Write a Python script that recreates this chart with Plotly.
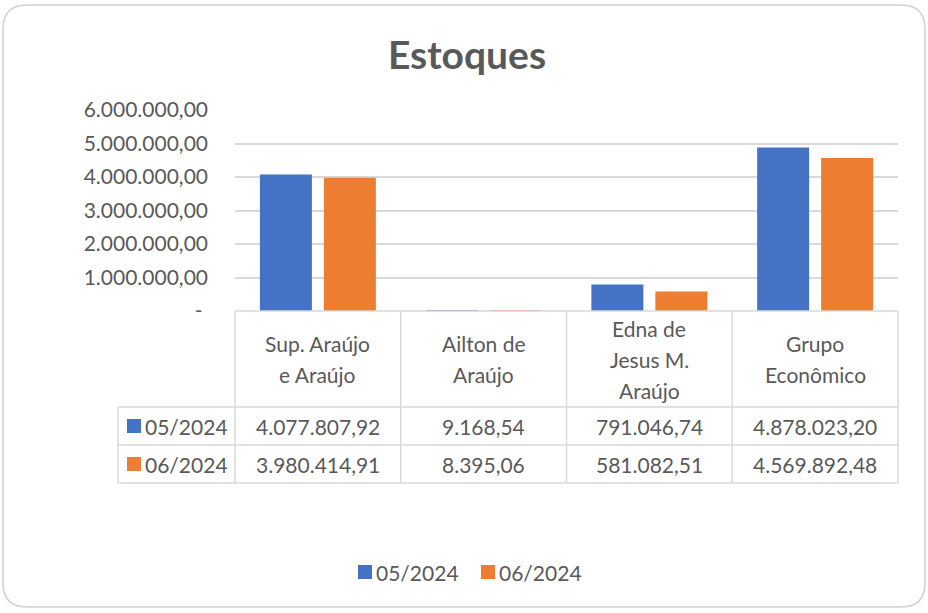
import plotly.graph_objects as go

# ---------------- data ----------------
categories = ["Sup. Araújo e Araújo", "Ailton de Araújo", "Edna de Jesus M. Araújo", "Grupo Econômico"]
category_lines = [["Sup. Araújo", "e Araújo"], ["Ailton de", "Araújo"],
                  ["Edna de", "Jesus M.", "Araújo"], ["Grupo", "Econômico"]]
series_names = ["05/2024", "06/2024"]
values_05 = [4077807.92, 9168.54, 791046.74, 4878023.20]
values_06 = [3980414.91, 8395.06, 581082.51, 4569892.48]
y_tick_values = [0, 1000000, 2000000, 3000000, 4000000, 5000000, 6000000]
title_text = "Estoques"

# ---------------- style / layout ----------------
W, H = 928, 613
ML, MR, MT, MB = 235, 30, 110, 302
PW, PH = W - ML - MR, H - MT - MB
FONT = "Lato"
FS = 21
TXT = "#595959"
LINE = "#d9d9d9"
colors = ["#4472C4", "#ED7D31"]


def px(x):
    return (x - ML) / PW


def py(y):
    return (H - MB - y) / PH


def br(v):
    s = f"{v:,.2f}"
    return s.replace(",", "X").replace(".", ",").replace("X", ".")


tick_text = ["-\u00a0" if v == 0 else br(v) for v in y_tick_values]

fig = go.Figure()
for name, vals, col in zip(series_names, [values_05, values_06], colors):
    fig.add_trace(go.Bar(x=categories, y=vals, name=name, marker=dict(color=col, line=dict(width=0)),
                         showlegend=False))

shapes = []
annotations = []

# outer rounded border
x0, x1, y0, y1, r = 3, 925, 5, 607, 24
path = (f"M {px(x0+r)},{py(y0)} L {px(x1-r)},{py(y0)} Q {px(x1)},{py(y0)} {px(x1)},{py(y0+r)} "
        f"L {px(x1)},{py(y1-r)} Q {px(x1)},{py(y1)} {px(x1-r)},{py(y1)} "
        f"L {px(x0+r)},{py(y1)} Q {px(x0)},{py(y1)} {px(x0)},{py(y1-r)} "
        f"L {px(x0)},{py(y0+r)} Q {px(x0)},{py(y0)} {px(x0+r)},{py(y0)} Z")
shapes.append(dict(type="path", xref="paper", yref="paper", path=path,
                   line=dict(color="#d0d0d0", width=1.5), layer="below"))

# data table grid
n = len(categories)
row_tops = [311, 407, 445, 483]
left_x = 118
shapes.append(dict(type="line", xref="paper", yref="paper", x0=0, x1=1, y0=py(row_tops[0]), y1=py(row_tops[0]),
                   line=dict(color=LINE, width=1.5)))
for ry in row_tops[1:]:
    shapes.append(dict(type="line", xref="paper", yref="paper", x0=px(left_x), x1=1, y0=py(ry), y1=py(ry),
                       line=dict(color=LINE, width=1.5)))
for i in range(n + 1):
    shapes.append(dict(type="line", xref="paper", yref="paper", x0=i / n, x1=i / n,
                       y0=py(row_tops[0]), y1=py(row_tops[-1]), line=dict(color=LINE, width=1.5)))
shapes.append(dict(type="line", xref="paper", yref="paper", x0=px(left_x), x1=px(left_x),
                   y0=py(row_tops[1]), y1=py(row_tops[-1]), line=dict(color=LINE, width=1.5)))

# header category labels
header_mid = (row_tops[0] + row_tops[1]) / 2
line_h = 31
for cat, lines in zip(categories, category_lines):
    k = len(lines)
    for j, t in enumerate(lines):
        yy = header_mid + (j - (k - 1) / 2) * line_h
        annotations.append(dict(x=cat, xref="x", y=py(yy), yref="paper", text=t, showarrow=False,
                                xanchor="center", yanchor="middle", font=dict(family=FONT, size=FS, color=TXT)))

# value rows
for ri, (name, vals, col) in enumerate(zip(series_names, [values_05, values_06], colors)):
    rmid = (row_tops[ri + 1] + row_tops[ri + 2]) / 2
    for cat, v in zip(categories, vals):
        annotations.append(dict(x=cat, xref="x", y=py(rmid), yref="paper", text=br(v), showarrow=False,
                                xanchor="center", yanchor="middle", font=dict(family=FONT, size=FS, color=TXT)))
    # legend key in table
    shapes.append(dict(type="rect", xref="paper", yref="paper", x0=px(127), x1=px(141),
                       y0=py(rmid - 7), y1=py(rmid + 7), fillcolor=col, line=dict(width=0)))
    annotations.append(dict(x=px(143), xref="paper", y=py(rmid), yref="paper", text=name, showarrow=False,
                            xanchor="left", yanchor="middle", font=dict(family=FONT, size=FS, color=TXT)))

# bottom legend
leg_y = 572
leg_x = [358, 481]
for lx, name, col in zip(leg_x, series_names, colors):
    shapes.append(dict(type="rect", xref="paper", yref="paper", x0=px(lx), x1=px(lx + 14),
                       y0=py(leg_y - 7), y1=py(leg_y + 7), fillcolor=col, line=dict(width=0)))
    annotations.append(dict(x=px(lx + 16), xref="paper", y=py(leg_y), yref="paper", text=name, showarrow=False,
                            xanchor="left", yanchor="middle", font=dict(family=FONT, size=FS, color=TXT)))

fig.update_layout(
    width=W, height=H,
    margin=dict(l=ML, r=MR, t=MT, b=MB),
    paper_bgcolor="white", plot_bgcolor="white",
    title=dict(text=title_text, x=467 / W, xref="container", xanchor="center",
               y=1 - 55 / H, yref="container", yanchor="middle",
               font=dict(family=FONT, size=39, color=TXT, weight="bold")),
    barmode="group", bargap=0.228, bargroupgap=0.1875,
    shapes=shapes, annotations=annotations,
    xaxis=dict(showticklabels=False, showgrid=False, zeroline=False, showline=False, fixedrange=True),
    yaxis=dict(range=[0, 6000000], tickvals=y_tick_values, ticktext=tick_text, showgrid=True,
               gridcolor=LINE, gridwidth=1.5, zeroline=False, showline=False, ticks="",
               ticklabelstandoff=26, tickfont=dict(family=FONT, size=FS, color=TXT)),
    showlegend=False,
)

fig.write_html("out.html", config={"displayModeBar": False},
               post_script="document.body.style.margin='0';document.body.style.overflow='hidden';")
